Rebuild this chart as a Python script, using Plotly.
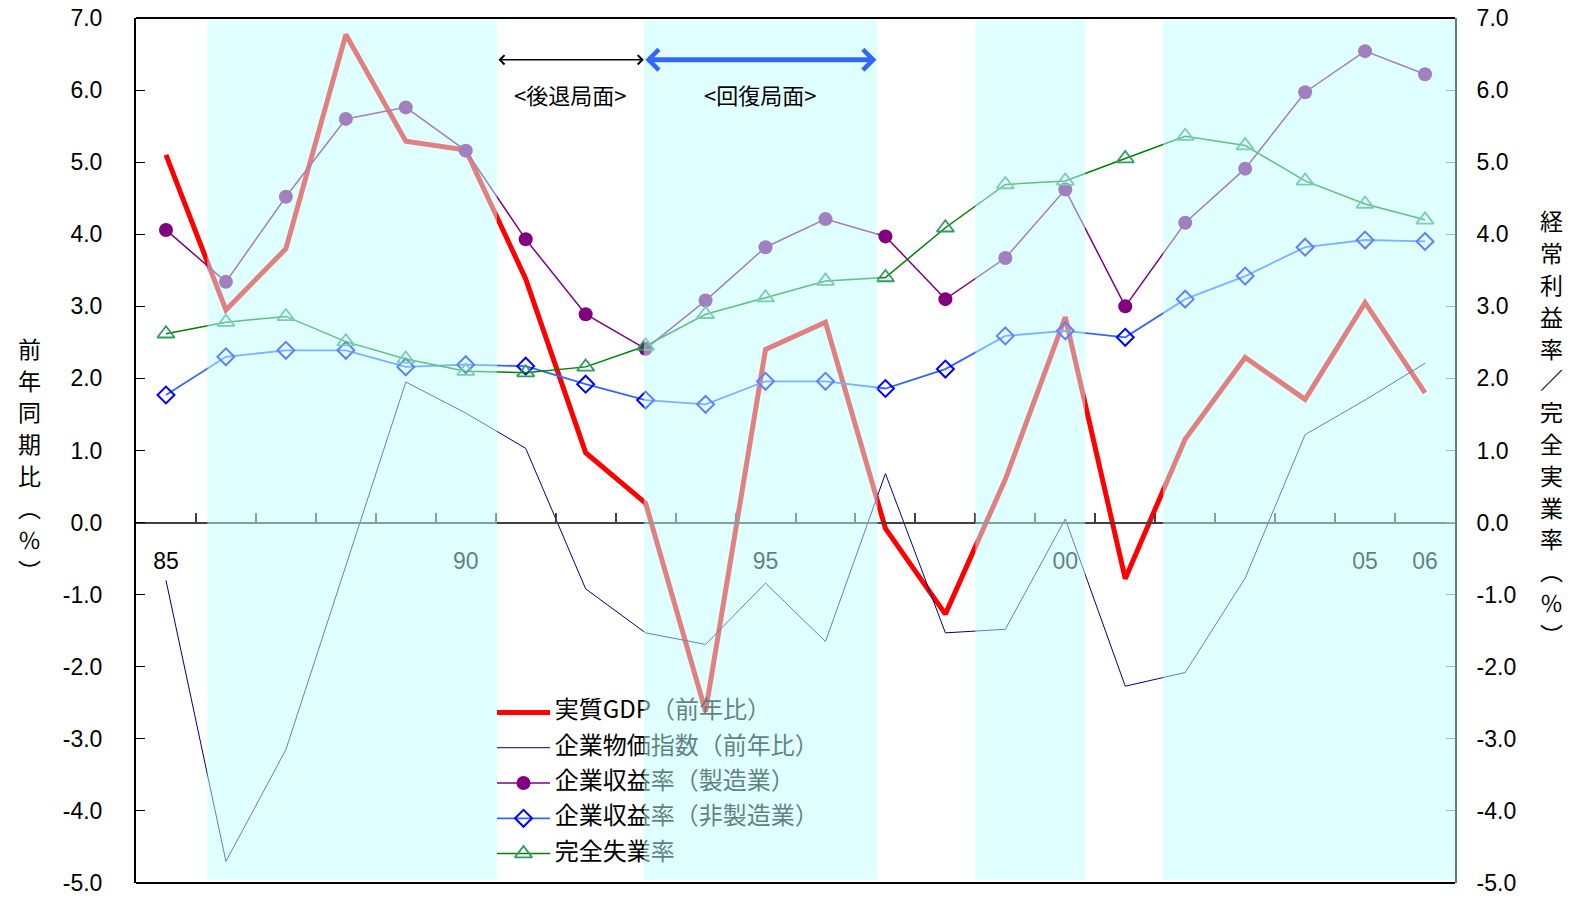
import plotly.graph_objects as go

# ---------------- data ----------------
years = list(range(1985, 2007))
gdp = [5.1, 2.95, 3.8, 6.77, 5.29, 5.17, 3.38, 0.97, 0.27, -2.62, 2.4, 2.78, -0.08,
       -1.27, 0.6, 2.85, -0.78, 1.16, 2.29, 1.71, 3.05, 1.8]
cgpi = [-0.8, -4.7, -3.15, -0.6, 1.95, 1.52, 1.03, -0.92, -1.53, -1.69, -0.84, -1.65,
        0.68, -1.53, -1.48, 0.05, -2.27, -2.08, -0.77, 1.22, 1.7, 2.21]
mfg = [4.06, 3.34, 4.52, 5.6, 5.76, 5.16, 3.93, 2.89, 2.41, 3.08, 3.82, 4.21, 3.97,
       3.1, 3.67, 4.62, 3.0, 4.16, 4.91, 5.97, 6.54, 6.22]
nonmfg = [1.77, 2.3, 2.39, 2.39, 2.16, 2.19, 2.17, 1.92, 1.7, 1.64, 1.96, 1.96, 1.86,
          2.13, 2.59, 2.66, 2.57, 3.1, 3.42, 3.82, 3.92, 3.9]
unemp = [2.62, 2.78, 2.86, 2.51, 2.27, 2.1, 2.08, 2.16, 2.45, 2.89, 3.12, 3.35, 3.4,
         4.09, 4.69, 4.74, 5.05, 5.36, 5.23, 4.74, 4.42, 4.2]

series_names = ["実質GDP（前年比）", "企業物価指数（前年比）", "企業収益率（製造業）",
                "企業収益率（非製造業）", "完全失業率"]

label_years = [1985, 1990, 1995, 2000, 2005, 2006]
label_text = ["85", "90", "95", "00", "05", "06"]
y_ticks = list(range(-5, 8))
y_text = [f"{v:.1f}" for v in y_ticks]

# expansion (shaded) periods, in year units
shade_periods = [(1985.69, 1990.52), (1992.97, 1996.87), (1998.5, 2000.33), (2001.63, 2006.5)]
recession_phase = (1990.52, 1992.97)
recovery_phase = (1992.97, 1996.85)
phase_labels = ["&lt;後退局面&gt;", "&lt;回復局面&gt;"]

left_title = ["前", "年", "同", "期", "比", "︵", "％", "︶"]
right_title = ["経", "常", "利", "益", "率", "／", "完", "全", "実", "業", "率", "︵", "％", "︶"]

# ---------------- styles ----------------
CJK = "Noto Sans CJK JP"
NUM = "Liberation Sans, Arial"
SHADE = "rgb(193,255,255)"
W, H = 1573, 897
ML, MR, MT, MB = 136, 118, 18, 14
PLOT_H = H - MT - MB

fig = go.Figure()

fig.add_trace(go.Scatter(x=years, y=gdp, mode="lines", line=dict(color="#FF0000", width=5),
                         name=series_names[0]))
fig.add_trace(go.Scatter(x=years, y=cgpi, mode="lines", line=dict(color="#000080", width=1),
                         name=series_names[1]))
fig.add_trace(go.Scatter(x=years, y=mfg, mode="lines+markers", yaxis="y2",
                         line=dict(color="#800080", width=1.5),
                         marker=dict(symbol="circle", size=14, color="#800080"),
                         name=series_names[2]))
fig.add_trace(go.Scatter(x=years, y=nonmfg, mode="lines+markers", yaxis="y2",
                         line=dict(color="#3366FF", width=1.8),
                         marker=dict(symbol="diamond-open", size=13, color="#0000FF",
                                     line=dict(width=2, color="#0000FF")),
                         name=series_names[3]))
fig.add_trace(go.Scatter(x=years, y=unemp, mode="lines+markers", yaxis="y2",
                         line=dict(color="#008000", width=1.5),
                         marker=dict(symbol="triangle-up-open", size=15, color="#339966",
                                     line=dict(width=1.8, color="#339966")),
                         name=series_names[4]))

# ---- in-plot legend (drawn as traces so that the shading lies over it) ----
LEG_X0, LEG_X1, LEG_TX = 0.2737, 0.3139, 0.3175
LEG_Y0, LEG_DY = 0.1972, 0.0408
leg_styles = [
    dict(line=dict(color="#FF0000", width=5), marker=None),
    dict(line=dict(color="#000080", width=1), marker=None),
    dict(line=dict(color="#800080", width=1.5),
         marker=dict(symbol="circle", size=14, color="#800080")),
    dict(line=dict(color="#3366FF", width=1.8),
         marker=dict(symbol="diamond-open", size=13, color="#0000FF", line=dict(width=2, color="#0000FF"))),
    dict(line=dict(color="#008000", width=1.5),
         marker=dict(symbol="triangle-up-open", size=15, color="#339966", line=dict(width=1.8, color="#339966"))),
]
for i, (nm, st) in enumerate(zip(series_names, leg_styles)):
    yy = LEG_Y0 - i * LEG_DY
    fig.add_trace(go.Scatter(x=[LEG_X0, LEG_X1], y=[yy, yy], mode="lines", line=st["line"],
                             xaxis="x2", yaxis="y3", showlegend=False, hoverinfo="skip"))
    if st["marker"] is not None:
        fig.add_trace(go.Scatter(x=[(LEG_X0 + LEG_X1) / 2], y=[yy], mode="markers", marker=st["marker"],
                                 xaxis="x2", yaxis="y3", showlegend=False, hoverinfo="skip"))
    fig.add_trace(go.Scatter(x=[LEG_TX], y=[yy], mode="text", text=[nm], textposition="middle right",
                             textfont=dict(family=CJK, size=24, color="black"),
                             xaxis="x2", yaxis="y3", showlegend=False, hoverinfo="skip"))

# ---- shading (above traces, semi-transparent) ----
shapes = []
for x0, x1 in shade_periods:
    shapes.append(dict(type="rect", xref="x", yref="paper", x0=x0, x1=x1, y0=0.004, y1=0.997,
                       fillcolor=SHADE, opacity=0.5, line=dict(width=0), layer="above"))
# frame top / bottom
shapes.append(dict(type="line", xref="paper", yref="paper", x0=0, x1=1, y0=1, y1=1,
                   line=dict(color="black", width=2), layer="above"))
shapes.append(dict(type="line", xref="paper", yref="paper", x0=0, x1=1, y0=0, y1=0,
                   line=dict(color="black", width=2), layer="above"))

ARROW_Y = 6.42
annotations = [
    dict(x=recession_phase[1], y=ARROW_Y, ax=recession_phase[0], ay=ARROW_Y, xref="x", yref="y",
         axref="x", ayref="y", text="", showarrow=True, arrowside="end+start", arrowhead=4,
         arrowsize=1.2, arrowwidth=1.5, arrowcolor="black"),
    dict(x=recovery_phase[1], y=ARROW_Y, ax=recovery_phase[0], ay=ARROW_Y, xref="x", yref="y",
         axref="x", ayref="y", text="", showarrow=True, arrowside="end+start", arrowhead=4,
         arrowsize=0.8, arrowwidth=5, arrowcolor="#3366FF"),
    dict(x=sum(recession_phase) / 2, y=5.95, xref="x", yref="y", text=phase_labels[0],
         showarrow=False, font=dict(family=CJK, size=22, color="black")),
    dict(x=sum(recovery_phase) / 2, y=5.95, xref="x", yref="y", text=phase_labels[1],
         showarrow=False, font=dict(family=CJK, size=22, color="black")),
]

# vertical axis titles: one character per line, stacked
STEP = 31.8 / PLOT_H
def stack(chars, xc, yc):
    n = len(chars)
    for i, ch in enumerate(chars):
        annotations.append(dict(x=xc, y=yc + ((n - 1) / 2 - i) * STEP, xref="paper", yref="paper",
                                xanchor="center", yanchor="middle", text=ch, showarrow=False,
                                font=dict(family=CJK, size=23, color="black")))

stack(left_title, (29 - ML) / (W - ML - MR), (H - MB - 459) / PLOT_H)
stack(right_title, (1551 - ML) / (W - ML - MR), (H - MB - 427) / PLOT_H)

yax_common = dict(range=[-5, 7], tickmode="array", tickvals=y_ticks, ticktext=y_text,
                  ticks="inside", ticklen=9, showgrid=False, zeroline=False, showline=True,
                  automargin=False, tickfont=dict(family=NUM, size=23, color="black"))

fig.update_layout(
    width=W, height=H,
    margin=dict(l=ML, r=MR, t=MT, b=MB, autoexpand=False),
    plot_bgcolor="white", paper_bgcolor="white",
    showlegend=False, hovermode=False,
    xaxis=dict(range=[1984.5, 2006.5], anchor="free", position=5 / 12, automargin=False,
               showline=True, linecolor="#404040", linewidth=1.5,
               tickmode="array", tickvals=label_years, ticktext=label_text, ticks="",
               showgrid=False, zeroline=False, ticklabelstandoff=18,
               tickfont=dict(family=NUM, size=23, color="black"),
               minor=dict(tickmode="array", tickvals=[y + 0.5 for y in years[:-1]],
                          ticks="inside", ticklen=9, tickwidth=1.5, tickcolor="#404040",
                          showgrid=False)),
    yaxis=dict(**yax_common, linecolor="black", linewidth=2, tickcolor="black",
               ticklabelstandoff=27),
    yaxis2=dict(**yax_common, overlaying="y", side="right", anchor="x",
                linecolor="#5F8080", linewidth=2, tickcolor="#5F8080", ticklabelstandoff=15),
    xaxis2=dict(overlaying="x", range=[0, 1], visible=False, automargin=False),
    yaxis3=dict(overlaying="y", range=[0, 1], visible=False, automargin=False),
    shapes=shapes, annotations=annotations,
)

fig.write_html("out.html")
